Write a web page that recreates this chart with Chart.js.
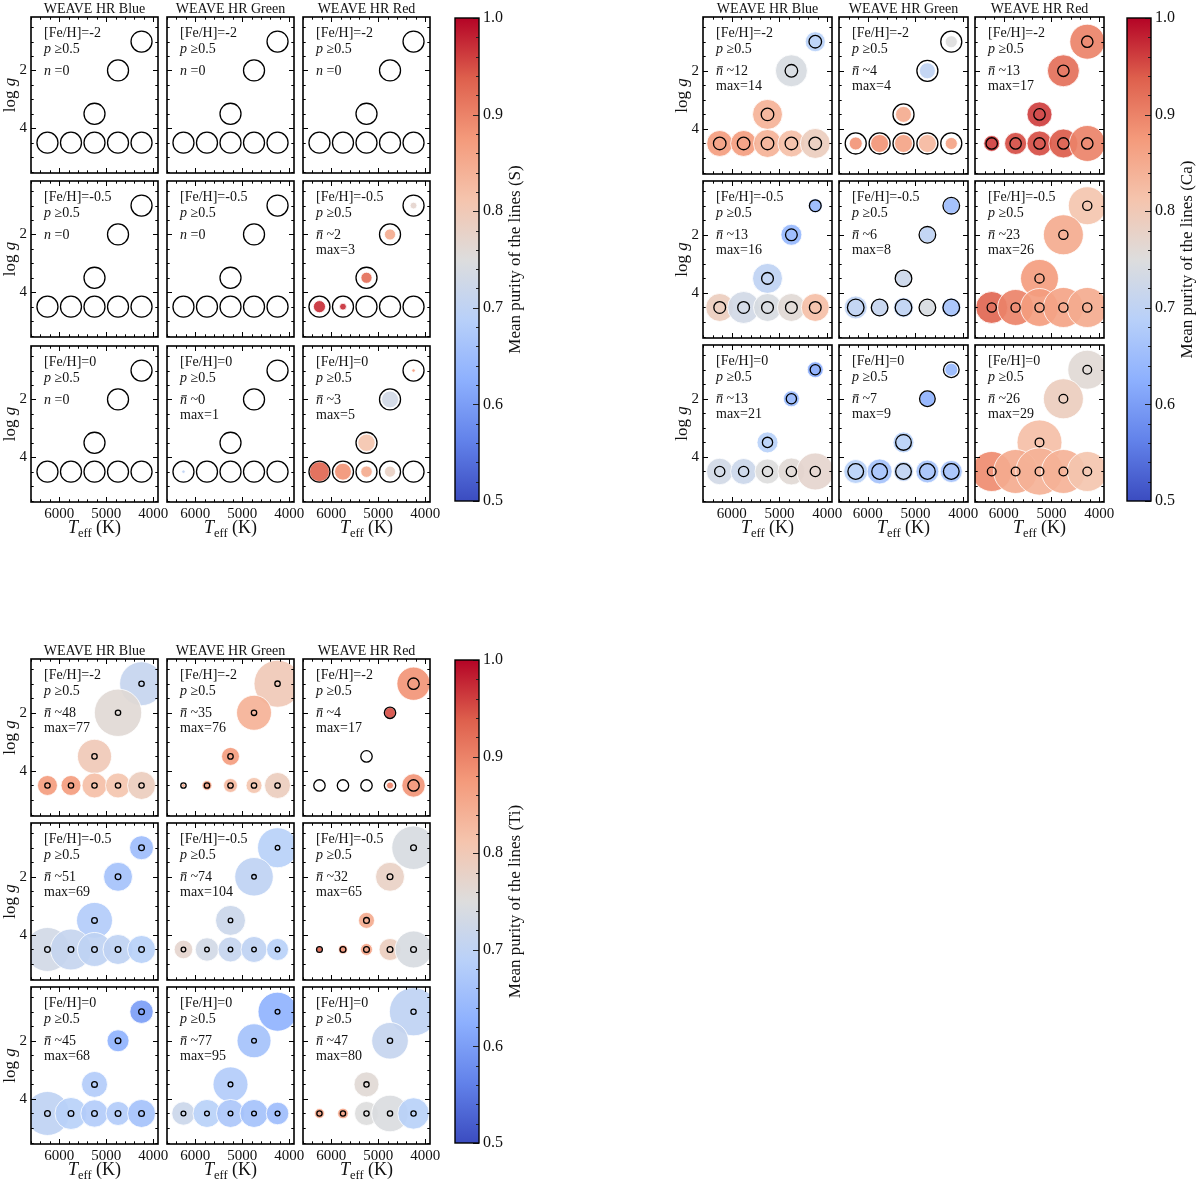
<!DOCTYPE html>
<html>
<head>
<meta charset="utf-8">
<script src="https://cdn.jsdelivr.net/npm/chart.js@4.4.1/dist/chart.umd.min.js"></script>
<style>
  body { margin: 0; background: #fff; }
  #page { position: relative; width: 1200px; height: 1184px; overflow: hidden; background: #fff; }
  #page canvas { position: absolute; }
</style>
</head>
<body>
<div id="page"></div>
<script>
// ---- data ----
const ARMS = ['Blue', 'Green', 'Red'];
const FEH = ['-2', '-0.5', '0'];

// stellar grid points: giants first, then dwarfs (drawing order)
const TEFF = [4250, 4750, 5250, 6250, 5750, 5250, 4750, 4250];
const LOGG = [1, 2, 3.5, 4.5, 4.5, 4.5, 4.5, 4.5];

const X_TICKS = [4000, 5000, 6000];
const Y_TICKS = [2, 4];
const CBAR_TICKS = [0.5, 0.6, 0.7, 0.8, 0.9, 1.0];

// subplots are row-major: [Fe/H]=-2 (Blue, Green, Red), -0.5 (...), 0 (...)
// mean number of lines per bin (bubble size)
const S_LINES = [
  [0, 0, 0, 0, 0, 0, 0, 0], [0, 0, 0, 0, 0, 0, 0, 0], [0, 0, 0, 0, 0, 0, 0, 0],
  [0, 0, 0, 0, 0, 0, 0, 0], [0, 0, 0, 0, 0, 0, 0, 0], [0.6, 1.6, 1.6, 1.9, 0.6, 0, 0, 0],
  [0, 0, 0, 0, 0, 0, 0, 0], [0, 0, 0, 0.15, 0, 0, 0, 0], [0.15, 3.7, 3.9, 5.2, 3.7, 1.7, 1.6, 0]
];
const S_PURITY = [
  [null, null, null, null, null, null, null, null], [null, null, null, null, null, null, null, null], [null, null, null, null, null, null, null, null],
  [null, null, null, null, null, null, null, null], [null, null, null, null, null, null, null, null], [0.77, 0.85, 0.92, 0.97, 0.97, null, null, null],
  [null, null, null, null, null, null, null, null], [null, null, null, 0.70, null, null, null, null], [0.87, 0.73, 0.81, 0.93, 0.88, 0.85, 0.78, null]
];
const S_MEAN = [0, 0, 0, 0, 0, 2, 0, 0, 3];
const S_MAX = [0, 0, 0, 0, 0, 3, 0, 1, 5];

const CA_LINES = [
  [5.2, 13.2, 11.6, 8.7, 8.7, 10.1, 9.4, 11.6], [1.9, 3.3, 3.3, 2.2, 4.2, 4.2, 4.2, 1.9], [15.8, 13.2, 8.1, 3.3, 6.3, 8.1, 10.9, 16.7],
  [2.5, 5.7, 11.6, 10.1, 13.2, 10.1, 10.1, 10.1], [3.3, 3.3, 3.3, 6.8, 4.2, 5.2, 3.3, 4.7], [18.6, 20.7, 18.6, 13.2, 16.7, 18.6, 20.7, 20.7],
  [3.3, 3.3, 5.7, 9.1, 8.7, 8.1, 9.4, 17.7], [2.2, 3.1, 5.7, 7.4, 8.1, 5.2, 6.8, 6.3], [19.6, 20.7, 26.1, 20.7, 25.0, 29.0, 25.0, 20.7]
];
const CA_PURITY = [
  [0.69, 0.74, 0.84, 0.87, 0.87, 0.84, 0.82, 0.79], [0.75, 0.70, 0.85, 0.88, 0.88, 0.86, 0.83, 0.86], [0.90, 0.92, 0.96, 0.96, 0.95, 0.95, 0.94, 0.90],
  [0.64, 0.64, 0.70, 0.79, 0.73, 0.74, 0.76, 0.82], [0.65, 0.70, 0.72, 0.70, 0.71, 0.70, 0.74, 0.66], [0.81, 0.85, 0.87, 0.93, 0.90, 0.87, 0.86, 0.85],
  [0.62, 0.64, 0.69, 0.73, 0.72, 0.75, 0.76, 0.77], [0.64, 0.63, 0.69, 0.69, 0.66, 0.70, 0.66, 0.66], [0.76, 0.79, 0.82, 0.89, 0.85, 0.84, 0.84, 0.81]
];
const CA_MEAN = [12, 4, 13, 13, 6, 23, 13, 7, 26];
const CA_MAX = [14, 4, 17, 16, 8, 26, 21, 9, 29];

const TI_LINES = [
  [66, 77, 40, 13.7, 13.7, 21.4, 21.4, 26.9], [76, 42, 11.1, 0.55, 3.4, 6.7, 8.8, 23.2], [38, 4.1, 0, 0, 0, 0, 1.7, 18.8],
  [19.8, 28.8, 44.4, 66.4, 57.6, 39.6, 30.9, 26.9], [54.9, 51, 30.9, 11.9, 18.8, 21.4, 23.2, 16.6], [65, 28.8, 8.8, 1.2, 2.8, 4.9, 16.6, 46.9],
  [18.8, 16.6, 23.2, 66.4, 35.1, 25.7, 19.8, 26.9], [52.2, 39.6, 42, 18.8, 26.9, 26.9, 26.9, 17.5], [80, 46, 21.4, 3.4, 3.9, 19.8, 46, 33.8]
];
const TI_PURITY = [
  [0.71, 0.76, 0.80, 0.87, 0.87, 0.82, 0.81, 0.79], [0.80, 0.84, 0.87, 0.85, 0.86, 0.83, 0.81, 0.79], [0.88, 0.95, null, null, null, null, 0.90, 0.88],
  [0.65, 0.66, 0.68, 0.73, 0.71, 0.70, 0.70, 0.69], [0.69, 0.70, 0.72, 0.77, 0.73, 0.71, 0.70, 0.69], [0.74, 0.78, 0.85, 0.93, 0.88, 0.86, 0.79, 0.74],
  [0.60, 0.63, 0.68, 0.70, 0.69, 0.68, 0.68, 0.66], [0.63, 0.66, 0.68, 0.72, 0.69, 0.67, 0.66, 0.65], [0.70, 0.71, 0.76, 0.86, 0.86, 0.75, 0.745, 0.69]
];
const TI_MEAN = [48, 35, 4, 51, 74, 32, 45, 77, 47];
const TI_MAX = [77, 76, 17, 69, 104, 65, 68, 95, 80];

// ---- layout and style ----
const SERIF = "'Liberation Serif', 'DejaVu Serif', serif";
const INK = '#111';
Chart.defaults.font.family = SERIF;
Chart.defaults.color = INK;

const PANELS = [
  { el: 'S', lines: S_LINES, purity: S_PURITY, mean: S_MEAN, max: S_MAX, sizeScale: 4.4,
    colX: [31, 167, 303], rowY: [17, 181, 346], w: 127, h: 156, cbarX: 455 },
  { el: 'Ca', lines: CA_LINES, purity: CA_PURITY, mean: CA_MEAN, max: CA_MAX, sizeScale: 4.4,
    colX: [703, 839, 975], rowY: [17, 181, 345], w: 129, h: 157, cbarX: 1127 },
  { el: 'Ti', lines: TI_LINES, purity: TI_PURITY, mean: TI_MEAN, max: TI_MAX, sizeScale: 2.7,
    colX: [31, 167, 303], rowY: [659, 823, 987], w: 127, h: 157, cbarX: 455 }
];

const COOLWARM = [[59, 76, 192], [98, 130, 234], [141, 176, 254], [184, 208, 249], [221, 221, 221],
                  [245, 196, 173], [244, 154, 123], [222, 96, 77], [180, 4, 38]];

function coolwarm(p, alpha) {
  let t = Math.max(0, Math.min(1, (p - 0.5) / 0.5));
  const f = t * (COOLWARM.length - 1);
  const i = Math.min(Math.floor(f), COOLWARM.length - 2);
  const u = f - i;
  const c = COOLWARM[i].map((v, k) => Math.round(v + (COOLWARM[i + 1][k] - v) * u));
  return `rgba(${c[0]},${c[1]},${c[2]},${alpha})`;
}

// reference ring shrinks with the largest line count of the subplot
function ringRadius(maxN) {
  return 23.5 / Math.sqrt(Math.max(maxN, 5));
}

const page = document.getElementById('page');

function makeCanvas(left, top, w, h) {
  const c = document.createElement('canvas');
  c.width = w; c.height = h;
  c.style.left = left + 'px'; c.style.top = top + 'px';
  c.style.width = w + 'px'; c.style.height = h + 'px';
  page.appendChild(c);
  return c;
}

// text made of plain / italic pieces, optional bar over a piece
function drawSegs(ctx, x, y, segs, size) {
  ctx.textBaseline = 'alphabetic';
  ctx.textAlign = 'left';
  for (const s of segs) {
    ctx.font = (s.it ? 'italic ' : '') + (s.size || size) + 'px ' + SERIF;
    const w = ctx.measureText(s.t).width;
    ctx.fillText(s.t, x, y + (s.dy || 0));
    if (s.bar) ctx.fillRect(x + 1.5, y - size * 0.62, w - 1.5, 1);
    x += w;
  }
  return x;
}

function segsWidth(ctx, segs, size) {
  let w = 0;
  for (const s of segs) {
    ctx.font = (s.it ? 'italic ' : '') + (s.size || size) + 'px ' + SERIF;
    w += ctx.measureText(s.t).width;
  }
  return w;
}

function minorTicks(lo, hi, step, majors) {
  const out = [];
  for (let v = Math.ceil(lo / step) * step; v <= hi + 1e-9; v += step) {
    const r = Math.round(v * 1000) / 1000;
    if (!majors.some(m => Math.abs(m - r) < 1e-6)) out.push(r);
  }
  return out;
}

const L = 42, T = 22, R = 22, B = 46;

function makeSubplot(panel, row, col) {
  const k = row * 3 + col;
  const lines = panel.lines[k], purity = panel.purity[k];
  const maxN = panel.max[k], meanN = panel.mean[k];
  const ringR = ringRadius(maxN);
  const isLeft = col === 0, isBottom = row === 2, isTop = row === 0;

  const filled = [], ring = [];
  for (let i = 0; i < TEFF.length; i++) {
    ring.push({ x: TEFF[i], y: LOGG[i], r: ringR });
    if (lines[i] > 0 && purity[i] !== null) {
      filled.push({ x: TEFF[i], y: LOGG[i], r: panel.sizeScale * Math.sqrt(lines[i]), p: purity[i] });
    }
  }

  const cv = makeCanvas(panel.colX[col] - L, panel.rowY[row] - T, panel.w + L + R, panel.h + T + B);

  const decor = {
    id: 'decor',
    afterDatasetsDraw(chart) {
      const { ctx, chartArea: a, scales: { x, y } } = chart;
      ctx.save();
      ctx.strokeStyle = '#000';
      ctx.lineWidth = 1;
      ctx.beginPath();
      const xMin = minorTicks(3900, 6600, 200, X_TICKS);
      const yMin = minorTicks(0.15, 5.55, 0.5, Y_TICKS);
      X_TICKS.concat(xMin).forEach(v => {
        const len = X_TICKS.includes(v) ? 5 : 2.7;
        const px = Math.round(x.getPixelForValue(v)) + 0.5;
        ctx.moveTo(px, a.bottom); ctx.lineTo(px, a.bottom - len);
        ctx.moveTo(px, a.top); ctx.lineTo(px, a.top + len);
      });
      Y_TICKS.concat(yMin).forEach(v => {
        const len = Y_TICKS.includes(v) ? 5 : 2.7;
        const py = Math.round(y.getPixelForValue(v)) + 0.5;
        ctx.moveTo(a.left, py); ctx.lineTo(a.left + len, py);
        ctx.moveTo(a.right, py); ctx.lineTo(a.right - len, py);
      });
      ctx.stroke();
      ctx.lineWidth = 1.6;
      ctx.strokeRect(a.left, a.top, a.right - a.left, a.bottom - a.top);
      ctx.restore();
    },
    afterDraw(chart) {
      const { ctx, chartArea: a } = chart;
      ctx.save();
      ctx.fillStyle = INK;
      const tx = a.left + 13, sz = 14;
      drawSegs(ctx, tx, a.top + 20, [{ t: '[Fe/H]=' + FEH[row] }], sz);
      drawSegs(ctx, tx, a.top + 35.5, [{ t: 'p', it: true }, { t: ' \u22650.5' }], sz);
      if (maxN > 0) {
        drawSegs(ctx, tx, a.top + 58, [{ t: 'n', it: true, bar: true }, { t: ' ~' + meanN }], sz);
        drawSegs(ctx, tx, a.top + 73, [{ t: 'max=' + maxN }], sz);
      } else {
        drawSegs(ctx, tx, a.top + 58, [{ t: 'n', it: true }, { t: ' =0' }], sz);
      }
      const cx = (a.left + a.right) / 2;
      if (isTop) {
        ctx.font = '14px ' + SERIF;
        ctx.textAlign = 'center';
        ctx.textBaseline = 'alphabetic';
        ctx.fillText('WEAVE HR ' + ARMS[col], cx, a.top - 4);
      }
      if (isBottom) {
        const segs = [{ t: 'T', it: true }, { t: 'eff', size: 12.5, dy: 4 }, { t: ' (K)' }];
        const w = segsWidth(ctx, segs, 18);
        drawSegs(ctx, cx - w / 2, a.bottom + 31, segs, 18);
      }
      if (isLeft) {
        const segs = [{ t: 'log ' }, { t: 'g', it: true }];
        ctx.translate(a.left - 16, (a.top + a.bottom) / 2);
        ctx.rotate(-Math.PI / 2);
        const w = segsWidth(ctx, segs, 17);
        drawSegs(ctx, -w / 2, 0, segs, 17);
      }
      ctx.restore();
    }
  };

  new Chart(cv, {
    type: 'bubble',
    data: {
      datasets: [
        { data: ring, order: 0, clip: 0, backgroundColor: 'rgba(0,0,0,0)', borderColor: '#000', borderWidth: 1.3 },
        { data: filled, order: 1, clip: 0, backgroundColor: filled.map(d => coolwarm(d.p, 0.92)),
          borderColor: '#fff', borderWidth: 0.8 }
      ]
    },
    options: {
      responsive: false,
      animation: false,
      events: [],
      layout: { autoPadding: false, padding: { top: T, right: R, left: 0, bottom: 0 } },
      plugins: { legend: { display: false }, tooltip: { enabled: false } },
      scales: {
        x: {
          type: 'linear', min: 3900, max: 6600, reverse: true,
          grid: { display: false, drawTicks: false }, border: { display: false },
          ticks: { display: isBottom, color: INK, font: { size: 15 }, padding: 3, maxRotation: 0, autoSkip: false,
                   callback: v => String(v) },
          afterBuildTicks: s => { s.ticks = X_TICKS.map(v => ({ value: v })); },
          afterFit: s => { s.height = B; s.paddingLeft = 0; s.paddingRight = 0; }
        },
        y: {
          type: 'linear', min: 0.15, max: 5.55, reverse: true,
          grid: { display: false, drawTicks: false }, border: { display: false },
          ticks: { display: isLeft, color: INK, font: { size: 15 }, padding: 4, callback: v => String(v) },
          afterBuildTicks: s => { s.ticks = Y_TICKS.map(v => ({ value: v })); },
          afterFit: s => { s.width = L; s.paddingTop = 0; s.paddingBottom = 0; }
        }
      }
    },
    plugins: [decor]
  });
}

function makeColorbar(panel) {
  const top = panel.rowY[0] + 1, bottom = panel.rowY[2] + panel.h - 1;
  const cw = 24, cL = 4, cT = 12, cR = 76, cB = 12;
  const cv = makeCanvas(panel.cbarX - cL, top - cT, cw + cL + cR, bottom - top + cT + cB);

  const frame = {
    id: 'cbarFrame',
    afterDatasetsDraw(chart) {
      const { ctx, chartArea: a, scales: { y } } = chart;
      ctx.save();
      ctx.strokeStyle = '#222';
      ctx.lineWidth = 1;
      ctx.beginPath();
      CBAR_TICKS.concat(minorTicks(0.5, 1.0, 0.02, CBAR_TICKS)).forEach(v => {
        const len = CBAR_TICKS.includes(v) ? 6 : 3;
        const py = Math.round(y.getPixelForValue(v)) + 0.5;
        ctx.moveTo(a.right, py); ctx.lineTo(a.right - len, py);
      });
      ctx.stroke();
      ctx.lineWidth = 1.4;
      ctx.strokeStyle = '#000';
      ctx.strokeRect(a.left, a.top, a.right - a.left, a.bottom - a.top);
      ctx.fillStyle = INK;
      ctx.translate(a.right + 37, (a.top + a.bottom) / 2);
      ctx.rotate(-Math.PI / 2);
      ctx.font = '17px ' + SERIF;
      ctx.textAlign = 'center';
      ctx.textBaseline = 'middle';
      ctx.fillText('Mean purity of the lines (' + panel.el + ')', 0, 0);
      ctx.restore();
    }
  };

  new Chart(cv, {
    type: 'bar',
    data: {
      labels: [''],
      datasets: [{
        data: [[0.5, 1.0]],
        barPercentage: 1, categoryPercentage: 1, borderWidth: 0,
        backgroundColor: c => {
          const ch = c.chart;
          if (!ch.chartArea) return 'rgba(0,0,0,0)';
          const ys = ch.scales.y;
          const g = ch.ctx.createLinearGradient(0, ys.getPixelForValue(0.5), 0, ys.getPixelForValue(1.0));
          COOLWARM.forEach((col, i) => g.addColorStop(i / (COOLWARM.length - 1), `rgb(${col[0]},${col[1]},${col[2]})`));
          return g;
        }
      }]
    },
    options: {
      responsive: false,
      animation: false,
      events: [],
      layout: { autoPadding: false, padding: { top: cT, bottom: cB, left: cL, right: 0 } },
      plugins: { legend: { display: false }, tooltip: { enabled: false } },
      scales: {
        x: { display: false },
        y: {
          position: 'right', min: 0.5, max: 1.0,
          grid: { display: false, drawTicks: false }, border: { display: false },
          ticks: { color: INK, font: { size: 16 }, padding: 4, callback: v => v.toFixed(1) },
          afterBuildTicks: s => { s.ticks = CBAR_TICKS.map(v => ({ value: v })); },
          afterFit: s => { s.width = cR; s.paddingTop = 0; s.paddingBottom = 0; }
        }
      }
    },
    plugins: [frame]
  });
}

PANELS.forEach(panel => {
  for (let row = 0; row < 3; row++) {
    for (let col = 0; col < 3; col++) makeSubplot(panel, row, col);
  }
  makeColorbar(panel);
});
</script>
</body>
</html>
